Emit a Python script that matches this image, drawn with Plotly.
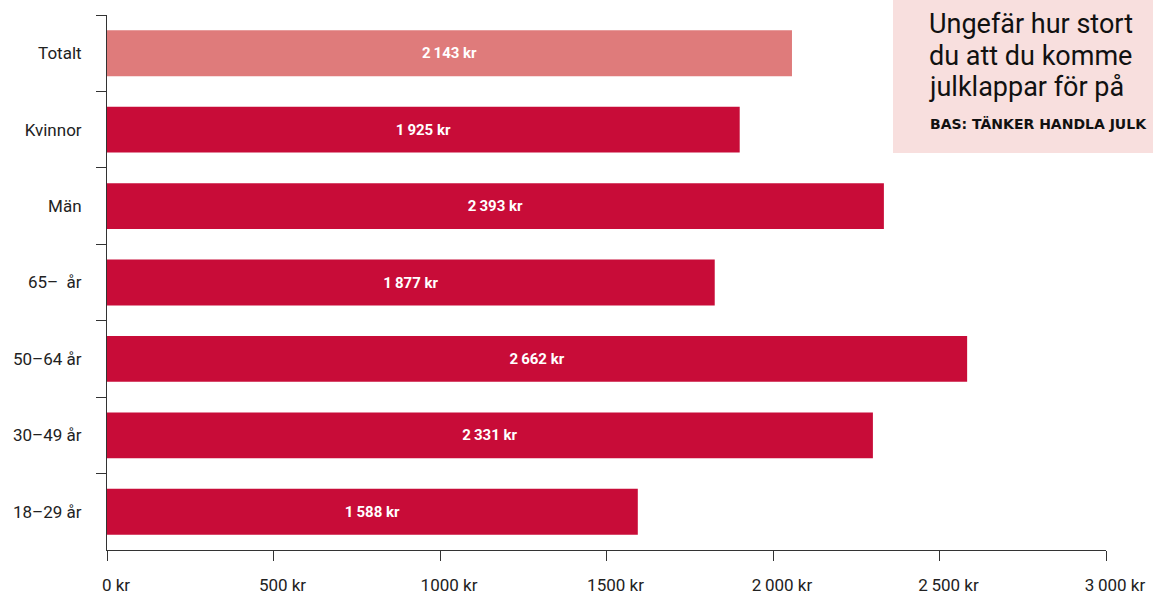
import plotly.graph_objects as go

categories = ["Totalt", "Kvinnor", "Män", "65–\u00a0\u00a0år", "50–64\u00a0år", "30–49\u00a0år", "18–29\u00a0år"]
values = [2057, 1900, 2333, 1825, 2583, 2300, 1594]
value_labels = ["2\u2009143 kr", "1\u2009925 kr", "2\u2009393 kr", "1\u2009877 kr", "2\u2009662 kr", "2\u2009331 kr", "1\u2009588 kr"]
bar_colors = ["#df7b7b", "#c80c38", "#c80c38", "#c80c38", "#c80c38", "#c80c38", "#c80c38"]
x_tickvals = [0, 500, 1000, 1500, 2000, 2500, 3000]
x_ticktext = ["0 kr", "500 kr", "1000 kr", "1500 kr", "2\u2009000 kr", "2\u2009500 kr", "3\u2009000 kr"]
title_lines = ["Ungefär hur stort", "du att du komme", "julklappar för på"]
subtitle = "BAS: TÄNKER HANDLA JULK"

FONT = "Roboto, sans-serif"
L, T, W, H = 107, 15, 999, 535

def px_x(p):
    return (p - L) / W

def px_y(p):
    return (T + H - p) / H

fig = go.Figure()
fig.add_trace(go.Bar(
    y=categories, x=values, orientation="h",
    marker=dict(color=bar_colors, line=dict(width=0)),
    text=value_labels, textposition="inside", insidetextanchor="middle",
    textfont=dict(family="Roboto, sans-serif", size=15, color="white", weight="bold"),
    hoverinfo="skip",
))

fig.update_layout(
    width=1153, height=594,
    margin=dict(l=L, r=1153 - L - W, t=T, b=594 - T - H, autoexpand=False),
    paper_bgcolor="white", plot_bgcolor="white",
    bargap=0.4,
    showlegend=False,
    font=dict(family=FONT, size=17, color="#222"),
    xaxis=dict(
        range=[0, 3000], tickvals=x_tickvals, ticktext=x_ticktext,
        showgrid=False, zeroline=False, automargin=False,
        showline=True, linecolor="#333", linewidth=1,
        ticks="outside", ticklen=10, tickcolor="#333", tickwidth=1,
        ticklabelstandoff=10, ticklabelshift=9,
        tickfont=dict(family=FONT, size=17, color="#222"),
    ),
    yaxis=dict(
        categoryorder="array", categoryarray=categories, autorange="reversed",
        showgrid=False, zeroline=False, automargin=False,
        showline=True, linecolor="#333", linewidth=1,
        ticks="outside", ticklen=10, tickcolor="#333", tickwidth=1,
        tickson="boundaries", ticklabelstandoff=21,
        tickfont=dict(family=FONT, size=17, color="#222"),
    ),
)

# title box
fig.add_shape(type="rect", xref="paper", yref="paper",
              x0=px_x(893), x1=1.2, y0=px_y(153), y1=1.2,
              fillcolor="#f8dfde", line=dict(width=0), layer="above")
for i, line in enumerate(title_lines):
    fig.add_annotation(xref="paper", yref="paper", x=px_x(928), y=px_y(24 + 31.5 * i),
                       xanchor="left", yanchor="middle", align="left", showarrow=False,
                       borderpad=0,
                       text=line, font=dict(family=FONT, size=27, color="#111"))
fig.add_annotation(xref="paper", yref="paper", x=px_x(928), y=px_y(124),
                   xanchor="left", yanchor="middle", align="left", showarrow=False,
                   text=subtitle,
                   font=dict(family="DejaVu Sans, sans-serif", size=14, color="#111", weight="bold"))

fig.write_html("out.html")
